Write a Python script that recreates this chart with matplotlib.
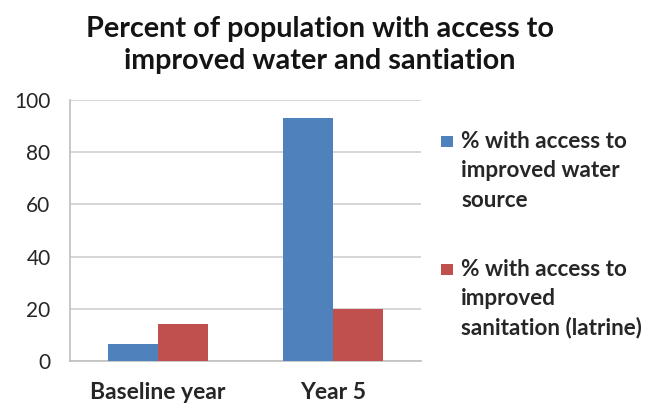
import matplotlib
matplotlib.use("Agg")
import matplotlib.pyplot as plt
from matplotlib.patches import Rectangle
import numpy as np

categories = ["Baseline year", "Year 5"]
water = [6.5, 93]
sanitation = [14, 20]
series_labels = ["% with access to\nimproved water\nsource",
                 "% with access to\nimproved\nsanitation (latrine)"]
series_colors = ["#4F81BD", "#C0504D"]
title = "Percent of population with access to\nimproved water and santiation"
yticks = [0, 20, 40, 60, 80, 100]

plt.rcParams['font.family'] = ['Lato', 'DejaVu Sans']

W, H = 655, 409
fig = plt.figure(figsize=(W / 100, H / 100), dpi=100)
ax = fig.add_axes([70 / W, 1 - 361 / H, 351 / W, 261 / H])

x = np.arange(len(categories))
bw = 0.285
ax.bar(x - bw / 2, water, bw, color=series_colors[0], zorder=3)
ax.bar(x + bw / 2, sanitation, bw, color=series_colors[1], zorder=3)

ax.set_xlim(-0.5, 1.5)
ax.set_ylim(0, 100)
ax.set_yticks(yticks)
ax.set_xticks(x)
ax.set_xticklabels(categories, fontsize=16.5, fontweight="bold", color="#262626")
ax.tick_params(axis='y', labelsize=15, labelcolor="#262626", length=0, pad=14)
ax.tick_params(axis='x', length=0, pad=15)
ax.yaxis.grid(True, color="#D0D0D0", linewidth=1.2, zorder=0)
for s in ["top", "right"]:
    ax.spines[s].set_visible(False)
for s in ["left", "bottom"]:
    ax.spines[s].set_color("#BFBFBF")
    ax.spines[s].set_linewidth(1.2)

# title, two lines
for line, yb in zip(title.split("\n"), [37, 69]):
    fig.text(320 / W, 1 - yb / H, line, ha="center", va="baseline", fontsize=20.7,
             fontweight="bold", color="#141414")

# legend
entry_top = [135, 263]
for lab, col, yt in zip(series_labels, series_colors, entry_top):
    fig.patches.append(Rectangle((441 / W, 1 - (yt + 12) / H), 12 / W, 11 / H,
                                 transform=fig.transFigure, facecolor=col,
                                 edgecolor="none"))
    for i, line in enumerate(lab.split("\n")):
        fig.text(461 / W, 1 - (yt + 13 + 29.3 * i) / H, line, ha="left", va="baseline",
                 fontsize=16.2, fontweight="bold", color="#262626")

fig.savefig("out.png", dpi=100)
